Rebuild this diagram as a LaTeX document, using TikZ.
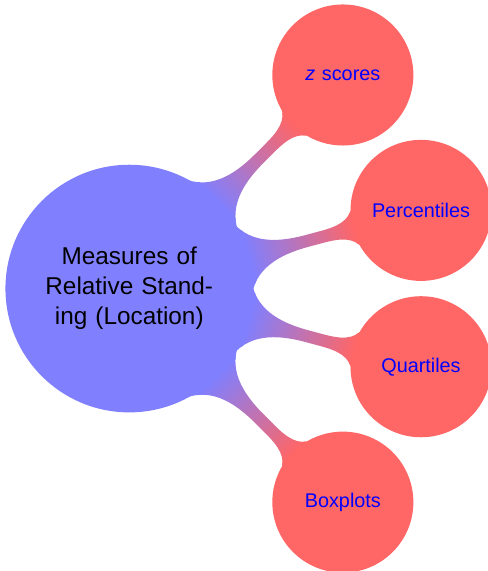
\documentclass[tikz,border=0pt]{standalone}
\usepackage{fontspec}
\setmainfont{Liberation Sans}
\usetikzlibrary{mindmap}
\begin{document}
\begin{tikzpicture}[mindmap,
  rootconcept/.style={concept, concept color=blue!50, minimum size=4cm,
    text width=3cm, align=center, font=\fontsize{11.3}{13.9}\selectfont},
  leafconcept/.style={concept, concept color=red!60, minimum size=2.26cm,
    text width=2.1cm, align=center, text=blue, font=\fontsize{9.2}{11}\selectfont}]
  \useasboundingbox (-2.11,-4.61) rectangle (5.85,4.71);
  \node[rootconcept] (measures) at (0,0) {Measures of\\Relative Stand-\\ing (Location)};
  \node[leafconcept] (zscores) at (45:4.93cm) {\textit{z} scores};
  \node[leafconcept] (percentiles) at (15:4.93cm) {Percentiles};
  \node[leafconcept] (quartiles) at (-15:4.93cm) {Quartiles};
  \node[leafconcept] (boxplots) at (-45:4.93cm) {Boxplots};
  \foreach \leaf in {zscores,percentiles,quartiles,boxplots}
    \path (measures) to[circle connection bar switch color=from (blue!50) to (red!60)] (\leaf);
\end{tikzpicture}
\end{document}
